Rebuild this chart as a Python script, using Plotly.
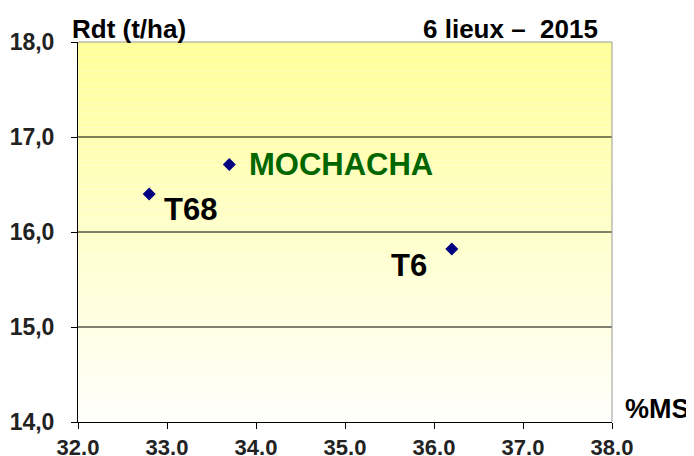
import plotly.graph_objects as go

# Data
varieties = ["T68", "MOCHACHA", "T6"]
ms_pct = [32.8, 33.7, 36.2]
yield_tha = [16.4, 16.71, 15.82]
label_colors = ["#000000", "#006600", "#000000"]
x_ticks = [32.0, 33.0, 34.0, 35.0, 36.0, 37.0, 38.0]
y_ticks = [14.0, 15.0, 16.0, 17.0, 18.0]

FONT = "Liberation Sans, Arial, sans-serif"

fig = go.Figure()
fig.add_trace(go.Scatter(
    x=ms_pct, y=yield_tha, mode="markers",
    marker=dict(symbol="diamond", size=10, color="#000080",
                line=dict(width=0)),
    hoverinfo="skip", showlegend=False,
))

# gradient background
n = 80
shapes = []
top = (255, 255, 153)
bot = (255, 255, 252)
for i in range(n):
    t = i / (n - 1)
    c = tuple(round(top[k] + (bot[k] - top[k]) * t) for k in range(3))
    shapes.append(dict(type="rect", xref="x domain", yref="y domain",
                       x0=0, x1=1, y0=1 - (i + 1) / n, y1=1 - i / n,
                       fillcolor="rgb(%d,%d,%d)" % c, line=dict(width=0),
                       layer="below"))
for yv in [15, 16, 17]:
    shapes.append(dict(type="line", xref="x domain", yref="y",
                       x0=0, x1=1, y0=yv, y1=yv,
                       line=dict(color="#000000", width=1), layer="below"))
shapes.append(dict(type="line", xref="x domain", yref="y domain",
                   x0=0, x1=1, y0=1, y1=1,
                   line=dict(color="#999999", width=1)))
shapes.append(dict(type="line", xref="x domain", yref="y domain",
                   x0=1, x1=1, y0=0, y1=1,
                   line=dict(color="#999999", width=1)))

annotations = []
offsets = {"T68": (13, -15, "left"), "MOCHACHA": (18, 0, "left"), "T6": (-23, -16, "right")}
for name, xv, yv, col in zip(varieties, ms_pct, yield_tha, label_colors):
    dx, dy, anc = offsets[name]
    annotations.append(dict(x=xv, y=yv, xref="x", yref="y", text="<b>%s</b>" % name,
                            showarrow=False, xanchor=anc, yanchor="middle",
                            xshift=dx, yshift=dy,
                            font=dict(family=FONT, size=31, color=col)))
annotations.append(dict(x=0, y=1, xref="paper", yref="paper", text="<b>Rdt (t/ha)</b>",
                        showarrow=False, xanchor="left", yanchor="bottom", xshift=-8, yshift=-4,
                        font=dict(family=FONT, size=26, color="#000000")))
annotations.append(dict(x=1, y=1, xref="paper", yref="paper", text="<b>6 lieux –  2015</b>",
                        showarrow=False, xanchor="right", yanchor="bottom", xshift=-12, yshift=-4,
                        font=dict(family=FONT, size=26, color="#000000")))
annotations.append(dict(x=1, y=0, xref="paper", yref="paper", text="<b>%MS</b>",
                        showarrow=False, xanchor="left", yanchor="bottom", xshift=11, yshift=-4,
                        font=dict(family=FONT, size=27, color="#000000")))

fig.update_layout(
    width=686, height=448,
    margin=dict(l=70, r=82, t=34, b=34, autoexpand=False),
    paper_bgcolor="white", plot_bgcolor="white",
    shapes=shapes, annotations=annotations,
    font=dict(family=FONT),
    xaxis=dict(range=[32, 38], tickvals=x_ticks,
               ticktext=["<b>%.1f</b>" % v for v in x_ticks],
               showgrid=False, zeroline=False, showline=True, automargin=False,
               linecolor="#000000", linewidth=1, ticks="outside", ticklen=6,
               tickcolor="#000000",
               tickfont=dict(family=FONT, size=22, color="#222222")),
    yaxis=dict(range=[14, 18], tickvals=y_ticks,
               ticktext=["<b>%s</b>" % ("%.1f" % v).replace(".", ",") for v in y_ticks],
               showgrid=False, zeroline=False, showline=True, automargin=False,
               linecolor="#000000", linewidth=1, ticks="outside", ticklen=6,
               tickcolor="#000000", ticklabelstandoff=12,
               tickfont=dict(family=FONT, size=23, color="#222222")),
)

fig.write_html("out.html")
